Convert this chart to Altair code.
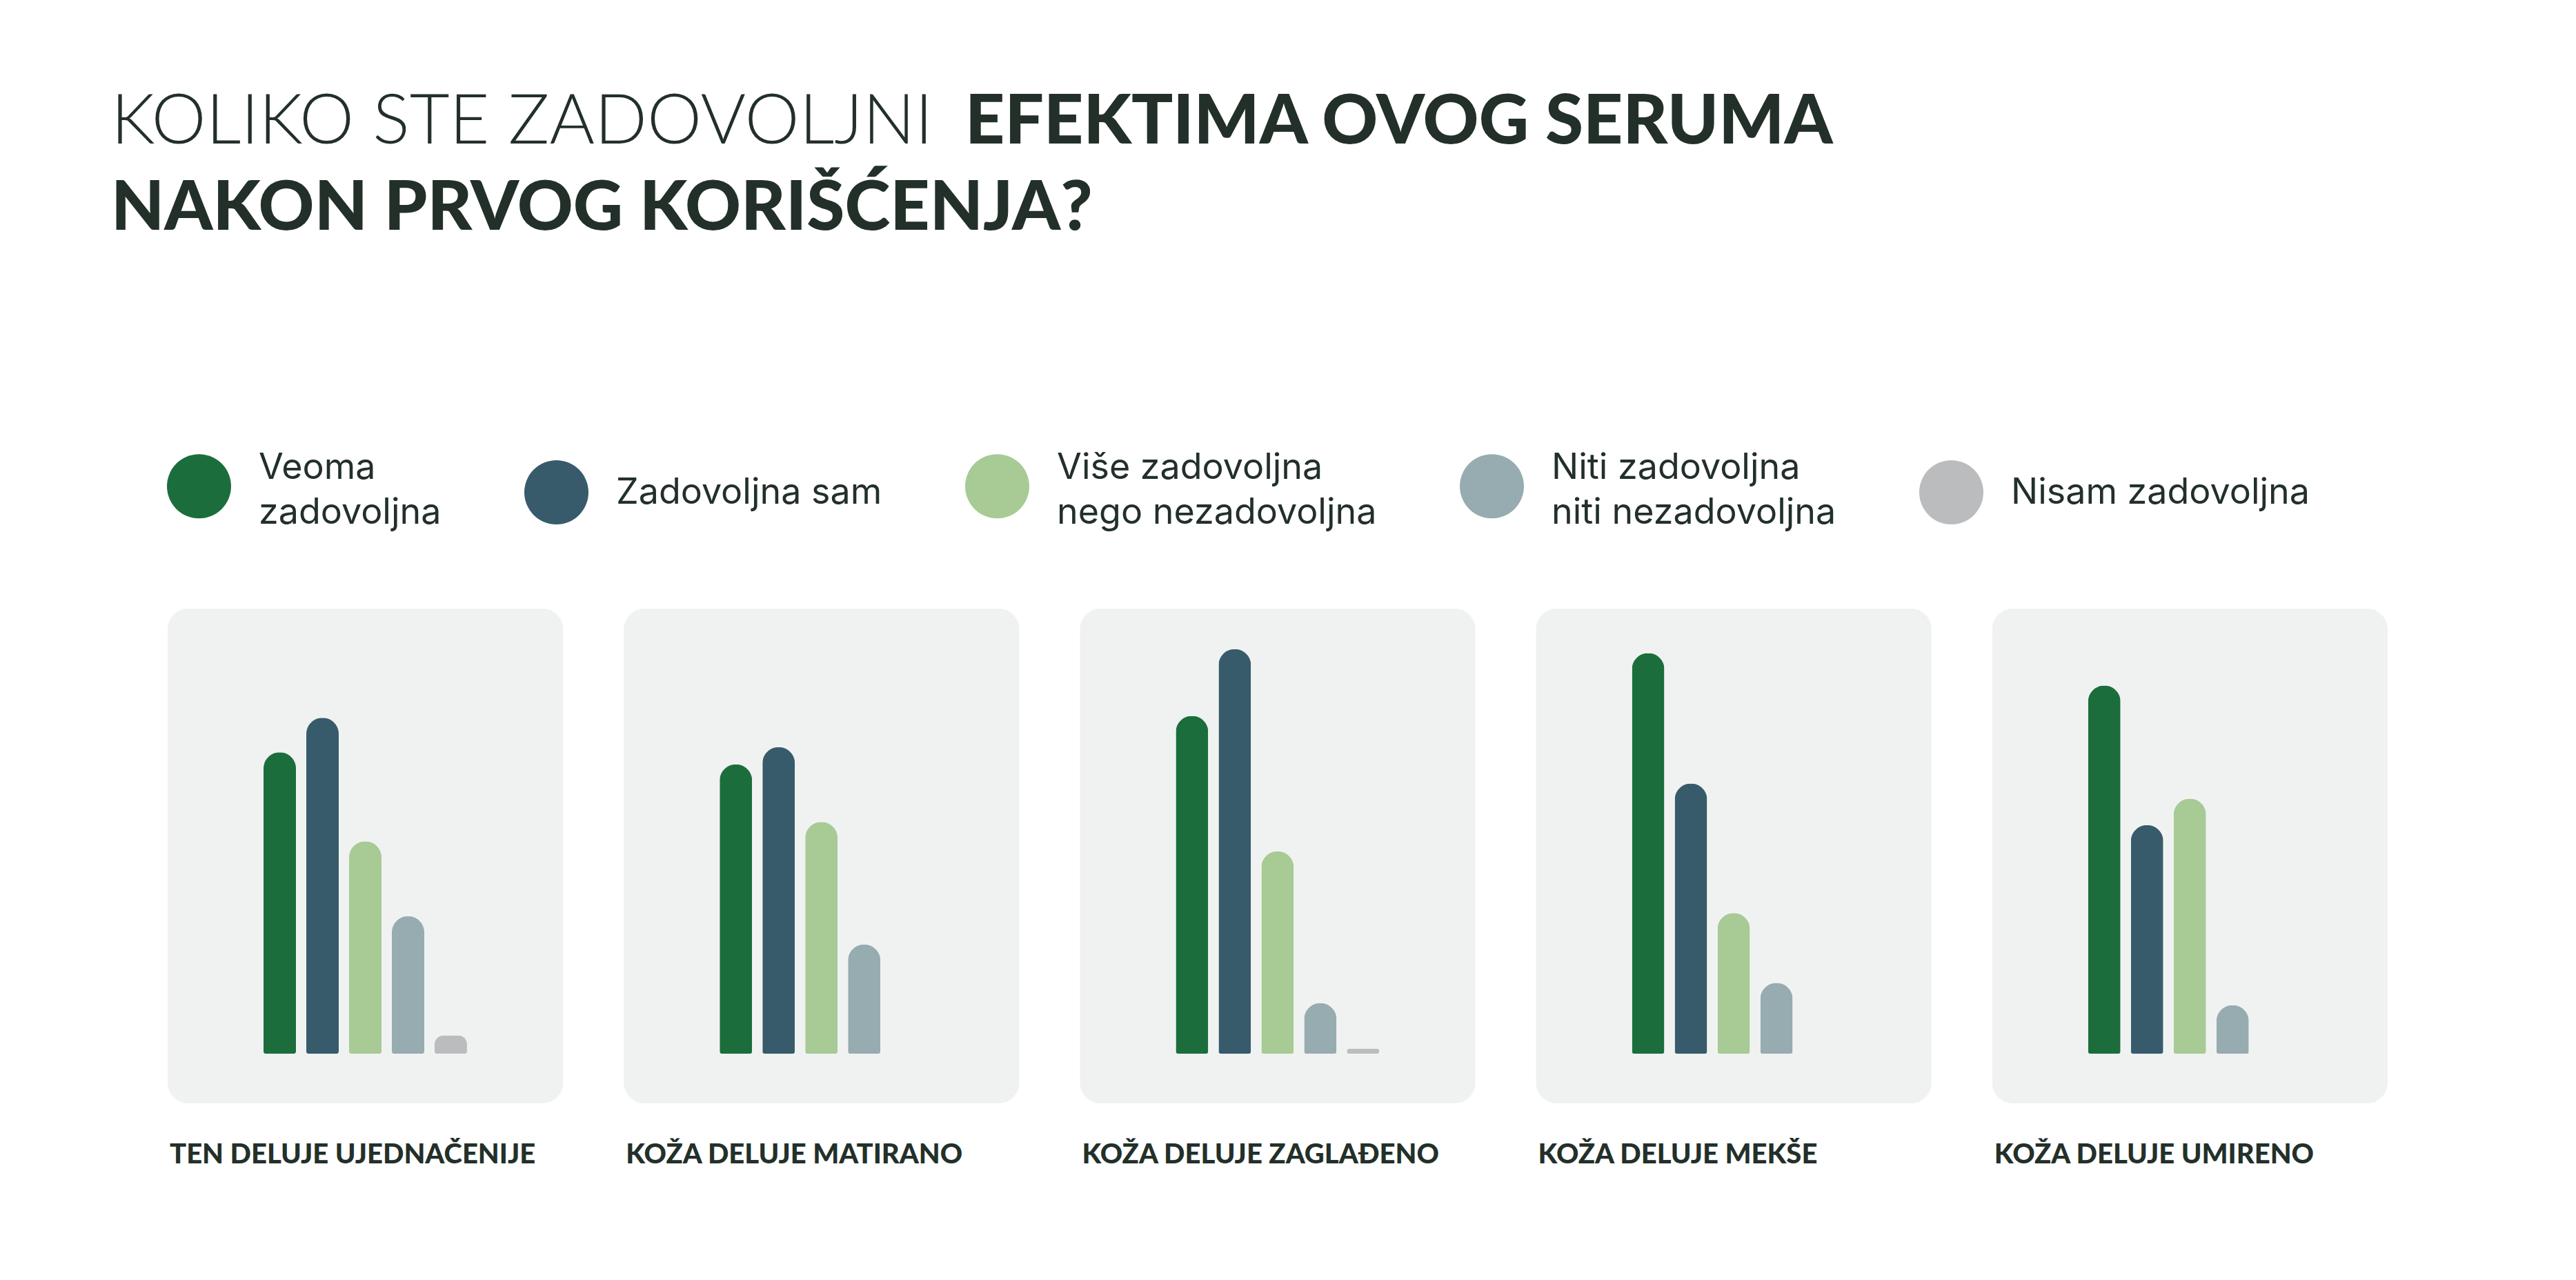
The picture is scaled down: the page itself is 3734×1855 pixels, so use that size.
import altair as alt
import pandas as pd

# ---- data -------------------------------------------------------------
panels = [
    "TEN DELUJE UJEDNAČENIJE",
    "KOŽA DELUJE MATIRANO",
    "KOŽA DELUJE ZAGLAĐENO",
    "KOŽA DELUJE MEKŠE",
    "KOŽA DELUJE UMIRENO",
]
categories = [
    "Veoma zadovoljna",
    "Zadovoljna sam",
    "Više zadovoljna nego nezadovoljna",
    "Niti zadovoljna niti nezadovoljna",
    "Nisam zadovoljna",
]
colors = ["#1B6E3B", "#375B6B", "#A8CA95", "#97ACB1", "#BBBCBE"]

veoma = [29.8, 28.6, 33.4, 39.6, 36.4]
zadovoljna = [33.2, 30.3, 40.0, 26.7, 22.6]
vise = [21.0, 22.9, 20.0, 13.9, 25.2]
niti = [13.6, 10.8, 5.0, 7.0, 4.8]
nisam = [1.8, 0.0, 0.5, 0.0, 0.0]

title_light = "KOLIKO STE ZADOVOLJNI"
title_bold_1 = "EFEKTIMA OVOG SERUMA"
title_bold_2 = "NAKON PRVOG KORIŠĆENJA?"

series = [veoma, zadovoljna, vise, niti, nisam]
rows = []
for cat, vals in zip(categories, series):
    for p, v in zip(panels, vals):
        rows.append({"panel": p, "cat": cat, "value": v})
df = pd.DataFrame(rows)
panel_df = pd.DataFrame({"panel": panels})
one = pd.DataFrame({"k": [0]})

TEXT = "#23302A"
PANEL_BG = "#F0F2F1"

x_panel = alt.X("panel:N", sort=panels, axis=None,
                scale=alt.Scale(domain=panels, paddingInner=0.133, paddingOuter=0))

background = alt.Chart(panel_df).mark_rect(cornerRadius=30, color=PANEL_BG).encode(
    x=x_panel,
    y=alt.value(0),
    y2=alt.value(717),
)

NB = "\u00a0" * 4
label_expr = (
    "datum.label == 'Veoma zadovoljna' ? ['Veoma', 'zadovoljna'] : "
    "datum.label == 'Više zadovoljna nego nezadovoljna' ? ['Više zadovoljna', 'nego nezadovoljna'] : "
    "datum.label == 'Niti zadovoljna niti nezadovoljna' ? ['Niti zadovoljna', 'niti nezadovoljna" + NB + "'] : "
    "datum.label"
)
baseline_expr = (
    "(datum.label == 'Veoma zadovoljna' || "
    "datum.label == 'Više zadovoljna nego nezadovoljna' || "
    "datum.label == 'Niti zadovoljna niti nezadovoljna') ? 'bottom' : 'middle'"
)

bars = alt.Chart(df).transform_filter("datum.value > 0").mark_bar(
    cornerRadiusTopLeft=23.5, cornerRadiusTopRight=23.5,
    cornerRadiusBottomLeft=3, cornerRadiusBottomRight=3,
).encode(
    x=x_panel,
    xOffset=alt.XOffset("cat:N", sort=categories,
                        scale=alt.Scale(domain=categories, paddingInner=0.242,
                                        paddingOuter=0, range=[139, 434])),
    y=alt.Y("value:Q", axis=None, scale=alt.Scale(domain=[0, 44])),
    color=alt.Color(
        "cat:N",
        sort=categories,
        scale=alt.Scale(domain=categories, range=colors),
        legend=alt.Legend(
            title=None,
            orient="none",
            legendX=-1,
            legendY=-224,
            direction="horizontal",
            columns=5,
            symbolType="circle",
            symbolSize=8649,
            symbolStrokeWidth=0,
            symbolOpacity=1,
            labelFont="Inter",
            labelFontSize=52,
            labelFontWeight=400,
            labelColor=TEXT,
            labelOffset=40,
            labelLimit=2000,
            labelBaseline=alt.ExprRef(baseline_expr),
            columnPadding=120,
            padding=0,
            labelExpr=label_expr,
        ),
    ),
)

labels = alt.Chart(panel_df).mark_text(
    align="left", baseline="alphabetic", font="Lato", fontWeight=900,
    fontSize=40, color=TEXT, dx=3,
).encode(
    x=alt.X("panel:N", sort=panels, bandPosition=0, axis=None,
            scale=alt.Scale(domain=panels, paddingInner=0.133, paddingOuter=0)),
    y=alt.value(804),
    text="panel:N",
)

t1 = alt.Chart(one).mark_text(
    align="left", baseline="alphabetic", font="Lato", fontWeight=300,
    fontSize=100, color=TEXT,
).encode(x=alt.value(-82), y=alt.value(-674), text=alt.value(title_light))

t2 = alt.Chart(one).mark_text(
    align="left", baseline="alphabetic", font="Lato", fontWeight=900,
    fontSize=100, color=TEXT,
).encode(x=alt.value(1156), y=alt.value(-674), text=alt.value(title_bold_1))

t3 = alt.Chart(one).mark_text(
    align="left", baseline="alphabetic", font="Lato", fontWeight=900,
    fontSize=100, color=TEXT,
).encode(x=alt.value(-82), y=alt.value(-549), text=alt.value(title_bold_2))

chart = alt.layer(background, bars, labels, t1, t2, t3).properties(
    width=3218,
    height=645,
    autosize=alt.AutoSizeParams(type="none"),
    padding={"left": 235, "top": 874, "right": 265, "bottom": 320},
    background="white",
).configure(
    style={"guide-label": {"lineHeight": 65}},
    view={"strokeWidth": 0},
)

chart.save("out.html", embed_options={"renderer": "svg", "actions": False})
